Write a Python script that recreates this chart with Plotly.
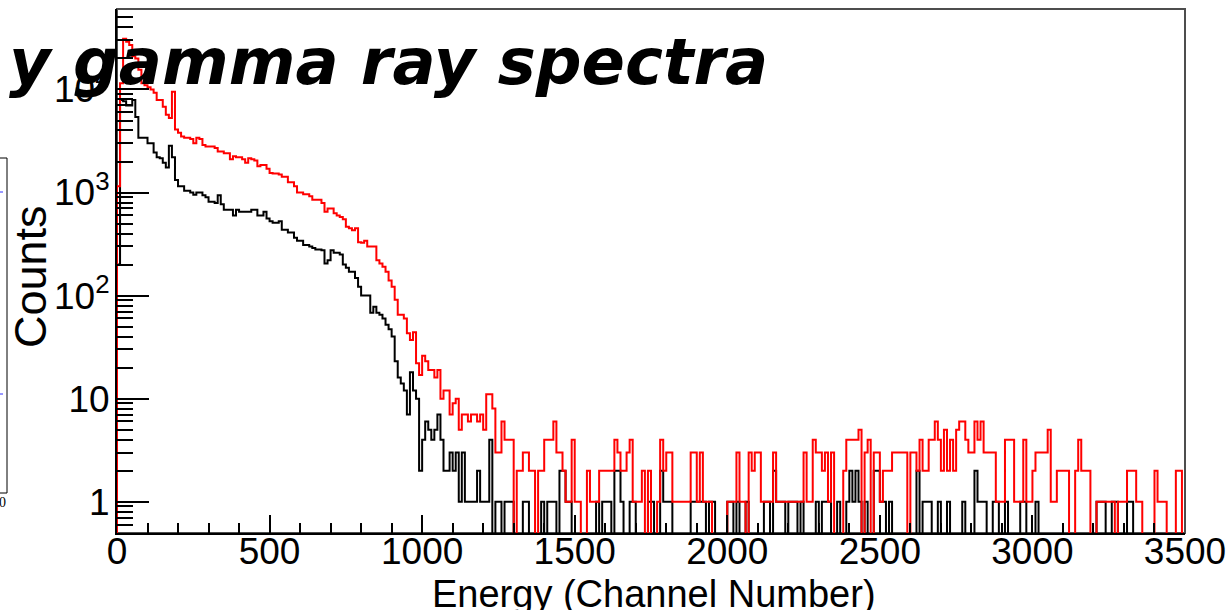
import numpy as np
import plotly.graph_objects as go

# Histogram binning (channels)
bin_width = 10
n_bins = 350

# Counts per 10-channel bin
red_counts = [
    1150, 11500, 31000, 29000, 27000, 21000, 20000, 15500, 11500, 11000,
    10500, 10000, 9300, 7900, 7900, 6800, 5700, 5300, 9500, 4100,
    3800, 3500, 3400, 3400, 3300, 3000, 3400, 3300, 2900, 2800,
    2800, 2800, 2700, 2500, 2500, 2400, 2400, 2100, 2250, 2200,
    2200, 2100, 1950, 2150, 2100, 2050, 1800, 1850, 1850, 1700,
    1550, 1530, 1530, 1500, 1420, 1420, 1260, 1260, 1150, 1000,
    1000, 960, 960, 920, 850, 850, 850, 790, 650, 700,
    700, 630, 600, 580, 550, 465, 450, 430, 450, 330,
    325, 340, 300, 300, 300, 220, 205, 190, 170, 140,
    122, 91, 65, 65, 60, 43, 37, 44, 22, 17,
    26, 23, 19, 19, 16, 19, 10, 12, 12, 7,
    9, 10, 5, 7, 7, 6, 7, 7, 6, 7,
    5, 11, 11, 8, 3, 3, 6, 4, 4, 4,
    0, 2, 2, 3, 3, 2, 2, 0, 2, 2,
    4, 4, 4, 6, 3, 3, 2, 1, 1, 4,
    1, 1, 0, 0, 2, 1, 1, 1, 2, 2,
    2, 2, 2, 4, 3, 2, 2, 3, 4, 1,
    1, 1, 2, 0, 2, 0, 0, 1, 4, 2,
    3, 3, 1, 1, 1, 1, 1, 1, 3, 3,
    1, 3, 1, 1, 1, 0, 0, 0, 0, 0,
    1, 1, 1, 3, 1, 1, 0, 3, 2, 3,
    3, 1, 1, 1, 1, 3, 1, 1, 1, 1,
    1, 1, 1, 1, 1, 3, 1, 1, 4, 3,
    3, 2, 3, 1, 3, 0, 0, 0, 2, 4,
    4, 4, 4, 5, 0, 3, 4, 0, 3, 3,
    1, 2, 2, 2, 3, 3, 3, 3, 3, 0,
    3, 3, 2, 4, 2, 2, 4, 4, 6, 4,
    2, 5, 2, 4, 2, 5, 6, 6, 4, 3,
    3, 6, 4, 6, 3, 3, 3, 3, 1, 1,
    1, 4, 4, 4, 1, 1, 1, 4, 1, 1,
    2, 3, 3, 3, 3, 5, 1, 1, 2, 2,
    2, 2, 0, 0, 2, 4, 2, 2, 2, 0,
    0, 1, 1, 1, 1, 1, 1, 0, 1, 1,
    1, 2, 2, 2, 1, 1, 0, 0, 0, 0,
    2, 1, 1, 1, 0, 0, 0, 2, 2, 0,
]

black_counts = [
    200, 7900, 7700, 7000, 7000, 7900, 5400, 3400, 3400, 3400,
    3000, 3000, 2450, 2200, 2150, 1950, 1750, 2850, 2200, 1320,
    1150, 1150, 1040, 1040, 1000, 950, 1000, 1000, 940, 900,
    815, 815, 790, 940, 770, 680, 680, 680, 600, 680,
    650, 650, 650, 650, 680, 680, 600, 600, 650, 560,
    525, 510, 510, 525, 435, 435, 410, 410, 365, 340,
    340, 310, 310, 300, 290, 280, 280, 275, 205, 220,
    275, 260, 260, 250, 200, 186, 170, 170, 148, 122,
    100, 100, 100, 68, 78, 68, 65, 60, 52, 47,
    40, 23, 16, 14, 12, 7, 18, 12, 10, 2,
    4, 6, 5, 4, 5, 7, 4, 2, 2, 3,
    2, 3, 1, 3, 1, 1, 1, 1, 2, 1,
    1, 1, 4, 0, 1, 1, 0, 1, 1, 1,
    0, 0, 0, 1, 1, 0, 0, 0, 0, 1,
    0, 1, 1, 1, 0, 2, 2, 1, 1, 0,
    0, 0, 0, 0, 0, 0, 0, 1, 0, 1,
    1, 1, 0, 2, 2, 1, 0, 0, 1, 1,
    0, 0, 0, 0, 1, 1, 0, 0, 2, 1,
    1, 1, 0, 0, 0, 0, 0, 0, 1, 1,
    1, 1, 1, 0, 1, 1, 0, 0, 0, 0,
    1, 1, 0, 1, 0, 0, 1, 0, 0, 0,
    0, 0, 1, 1, 0, 2, 1, 1, 1, 0,
    1, 1, 1, 0, 1, 0, 0, 0, 0, 1,
    0, 1, 1, 1, 0, 0, 1, 0, 0, 1,
    2, 1, 2, 1, 0, 1, 0, 0, 2, 2,
    1, 1, 0, 1, 0, 0, 0, 0, 0, 0,
    0, 0, 2, 0, 1, 1, 1, 0, 0, 1,
    0, 0, 1, 0, 0, 0, 0, 1, 0, 0,
    0, 2, 1, 1, 1, 0, 0, 1, 1, 0,
    0, 1, 0, 0, 0, 0, 1, 1, 0, 0,
    0, 1, 0, 0, 0, 0, 0, 0, 0, 0,
    0, 0, 0, 0, 0, 0, 0, 0, 0, 0,
    0, 1, 1, 1, 0, 0, 1, 1, 0, 0,
    0, 1, 1, 0, 0, 0, 0, 0, 0, 0,
    0, 0, 0, 0, 0, 0, 0, 0, 0, 0,
]

x_tick_vals = [0, 500, 1000, 1500, 2000, 2500, 3000, 3500]
y_tick_vals = [1, 10, 100, 1000, 10000]
y_tick_text = ["1", "10", "10<sup>2</sup>", "10<sup>3</sup>", "10<sup>4</sup>"]

title_text = "y gamma ray spectra"
x_title = "Energy (Channel Number)"
y_title = "Counts"

# Frame geometry in pixels
W, H = 1227, 610
L, R, T, B = 117, 42, 9, 77
plot_w, plot_h = W - L - R, H - T - B
y_range_log = [-0.304, 4.781]
floor_val = 0.1  # empty bins fall below the frame (log scale)


def px_x(px):
    return (px - L) / plot_w


def px_y(py):
    return (H - B - py) / plot_h


edges = np.arange(n_bins + 1) * bin_width


def step_xy(counts):
    c = np.asarray(counts, dtype=float)
    y = np.where(c > 0, c, floor_val)
    xs = np.concatenate([[edges[0]], edges[:-1], [edges[-1]]])
    ys = np.concatenate([[floor_val], y, [y[-1]]])
    return xs, ys


fig = go.Figure()
for counts, color in [(black_counts, "#000000"), (red_counts, "#ff0000")]:
    xs, ys = step_xy(counts)
    fig.add_trace(go.Scatter(
        x=xs, y=ys, mode="lines", line=dict(color=color, width=2, shape="hv"),
        hoverinfo="skip", showlegend=False,
    ))

minor_y = [k * 10.0 ** d for d in range(-1, 5) for k in range(2, 10)]
minor_y = [v for v in minor_y if 10 ** y_range_log[0] <= v <= 10 ** y_range_log[1]]

sans = "Liberation Sans, Arial, sans-serif"
tick_font = dict(family=sans, size=37, color="black")

fig.update_layout(
    width=W, height=H,
    margin=dict(l=L, r=R, t=T, b=B, pad=0, autoexpand=False),
    paper_bgcolor="white", plot_bgcolor="white",
    showlegend=False,
    xaxis=dict(
        range=[0, 3500], tickmode="array", tickvals=x_tick_vals, automargin=False,
        ticks="inside", ticklen=18, tickwidth=1.5, tickcolor="black",
        minor=dict(dtick=100, ticks="inside", ticklen=10, tickwidth=1.5, tickcolor="black"),
        showline=True, linecolor="black", linewidth=2,
        showgrid=False, zeroline=False, tickfont=tick_font, ticklabelstandoff=-15,
    ),
    yaxis=dict(
        type="log", range=y_range_log, tickmode="array", automargin=False,
        tickvals=y_tick_vals, ticktext=y_tick_text,
        ticks="inside", ticklen=32, tickwidth=1.5, tickcolor="black",
        minor=dict(tickmode="array", tickvals=minor_y, ticks="inside", ticklen=16,
                   tickwidth=1.5, tickcolor="black", showgrid=False),
        showline=True, linecolor="black", linewidth=2,
        showgrid=False, zeroline=False, tickfont=tick_font, ticklabelstandoff=-2,
    ),
)

# Outer frame (top and right sides)
fig.add_shape(type="rect", xref="paper", yref="paper", x0=0, x1=1, y0=0, y1=1,
              line=dict(color="#4d4d4d", width=2), layer="below")

# Fragment of a neighbouring panel at the left edge
fig.add_shape(type="rect", xref="paper", yref="paper",
              x0=px_x(-20), x1=px_x(7), y0=px_y(493), y1=px_y(158),
              line=dict(color="black", width=1))
for py in (192, 394):
    fig.add_shape(type="line", xref="paper", yref="paper",
                  x0=px_x(0), x1=px_x(6), y0=px_y(py), y1=px_y(py),
                  line=dict(color="#3030ff", width=1, dash="dot"))
fig.add_annotation(text="0", xref="paper", yref="paper", x=px_x(2), y=px_y(502),
                   xanchor="center", yanchor="middle", showarrow=False,
                   font=dict(family="Liberation Serif", size=14, color="black"))

# Axis titles
fig.add_annotation(text=y_title, xref="paper", yref="paper", x=px_x(30), y=px_y(277),
                   xanchor="center", yanchor="middle", textangle=-90, showarrow=False,
                   font=dict(family=sans, size=45, color="black"))
fig.add_annotation(text=x_title, xref="paper", yref="paper", x=px_x(654), y=px_y(594),
                   xanchor="center", yanchor="middle", showarrow=False,
                   font=dict(family=sans, size=38, color="black"))

# Slide heading laid over the plot
fig.add_annotation(text="<b><i>" + title_text + "</i></b>", xref="paper", yref="paper",
                   x=px_x(770), y=px_y(62), xanchor="right", yanchor="middle",
                   showarrow=False,
                   font=dict(family="DejaVu Sans", size=64, color="black"))

fig.write_html("out.html")
